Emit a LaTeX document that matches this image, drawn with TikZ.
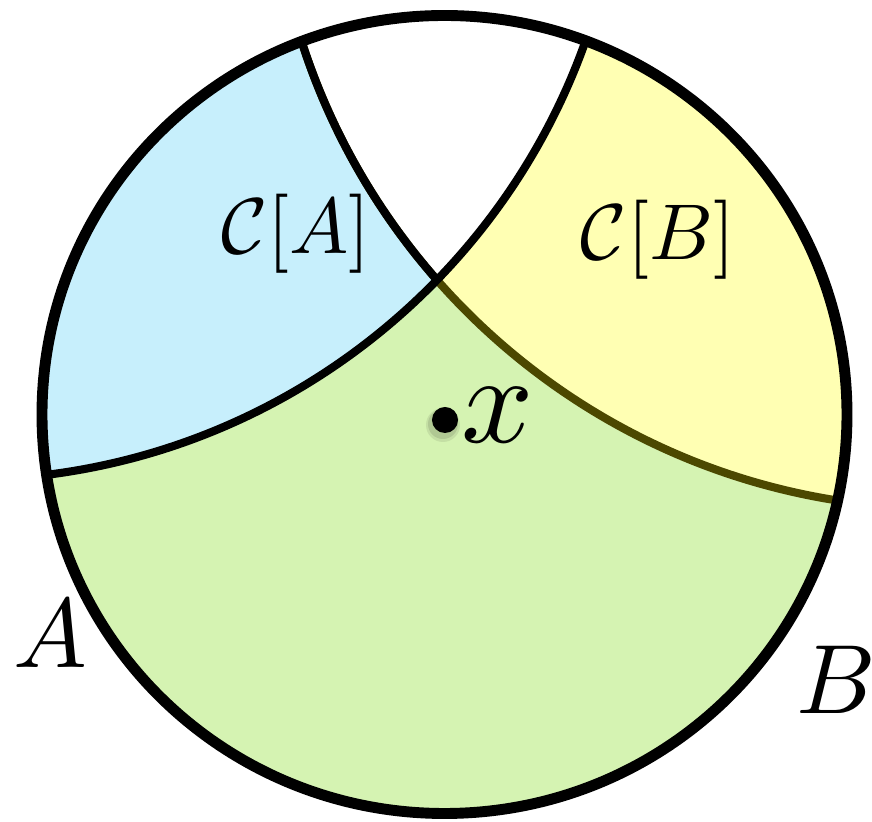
\documentclass[tikz,border=0pt]{standalone}
\usepackage{amsmath}
\definecolor{cblue}{RGB}{199,239,252}
\definecolor{cyellow}{RGB}{255,255,179}
\definecolor{cgreen}{RGB}{213,243,178}
\definecolor{colive}{RGB}{76,72,0}
\begin{document}
\begin{tikzpicture}[x=0.01cm,y=-0.01cm,
  innerline/.style={line width=2.3pt},
  outerline/.style={line width=3.1pt},
  lbl/.style={inner sep=0pt}]
\useasboundingbox (0,0) rectangle (872,822);
\coordinate (O) at (444.5,414.5);
\coordinate (CA) at (942.13,-163.81);
\coordinate (CB) at (-35.87,-179.07);
\begin{scope}
  \clip (O) ellipse [x radius=402.5, y radius=399];
  \fill[cgreen] (O) ellipse [x radius=402.5, y radius=399];
  \fill[cyellow] (CA) circle [radius=672.4];
  \fill[cblue] (CB) circle [radius=659.05];
  \begin{scope}
    \clip (CA) circle [radius=672.4];
    \fill[white] (CB) circle [radius=659.05];
  \end{scope}
  \draw[innerline, colive] (CA) circle [radius=672.4];
  \begin{scope}
    \clip (CB) circle [radius=659.05];
    \draw[innerline] (CA) circle [radius=672.4];
  \end{scope}
  \draw[innerline] (CB) circle [radius=659.05];
\end{scope}
\draw[outerline] (O) ellipse [x radius=402.5, y radius=399];
% labels
\node[lbl, scale=2.25] (lca) at (296,234) {$\mathcal{C}[A]$};
\node[lbl, scale=2.25] (lcb) at (658,240) {$\mathcal{C}[B]$};
\node[lbl, scale=2.8] (la) at (50,634) {$A$};
\node[lbl, scale=2.8] (lb) at (836,680) {$B$};
% dot with soft shadow
\fill[black, opacity=0.08] (443,425) circle [radius=17];
\fill[black, opacity=0.10] (443,424) circle [radius=15];
\node[circle, fill=black, inner sep=0pt, minimum size=0.26cm] (xdot) at (445,420) {};
\node[lbl, scale=3.6] (lx) at (498,415) {$x$};
\end{tikzpicture}
\end{document}
